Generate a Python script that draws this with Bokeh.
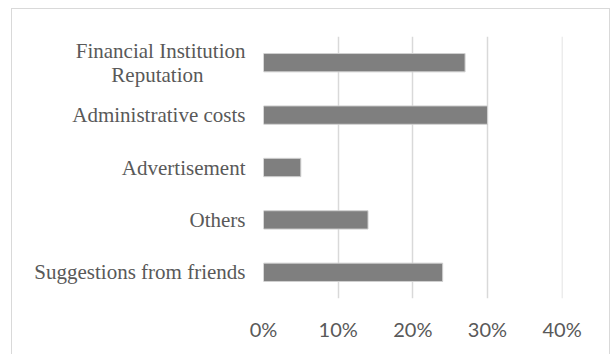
from bokeh.plotting import figure
from bokeh.models import FactorRange, FixedTicker, NumeralTickFormatter, ColumnDataSource
from bokeh.embed import file_html
from bokeh.resources import INLINE

categories = ["Financial Institution\nReputation" + "\u00a0" * 8, "Administrative costs",
              "Advertisement", "Others", "Suggestions from friends"]
values = [0.27, 0.30, 0.05, 0.14, 0.24]
x_ticks = [0.0, 0.1, 0.2, 0.3, 0.4]

src = ColumnDataSource(dict(cat=categories, val=values))

p = figure(width=599, height=346, output_backend="svg", toolbar_location=None,
           y_range=FactorRange(factors=list(reversed(categories))),
           x_range=(0, 0.4005))
p.margin = (8, 0, 0, 11)
p.styles = {"border-top": "1px solid #d9d9d9", "border-left": "1px solid #d9d9d9",
            "border-right": "1px solid #d9d9d9"}
p.min_border_left = 251
p.min_border_right = 49
p.min_border_top = 27
p.min_border_bottom = 57
p.outline_line_color = None
p.background_fill_color = "white"
p.border_fill_color = "white"

p.hbar(y="cat", right="val", left=0, height=0.35, source=src,
       fill_color="#7f7f7f", line_color="#d0d0d0", line_width=1)

p.ygrid.grid_line_color = None
p.xgrid.grid_line_color = "#d9d9d9"
p.xgrid.grid_line_width = 1.5
p.xaxis.ticker = FixedTicker(ticks=x_ticks)
p.xaxis.formatter = NumeralTickFormatter(format="0%")
p.xaxis.axis_line_color = None
p.xaxis.major_tick_line_color = None
p.xaxis.minor_tick_line_color = None
p.xaxis.major_label_text_font = "Lato"
p.xaxis.major_label_text_font_size = "20px"
p.xaxis.major_label_text_color = "#595959"
p.xaxis.major_label_standoff = 12

p.yaxis.axis_line_color = None
p.yaxis.major_tick_line_color = None
p.yaxis.minor_tick_line_color = None
p.yaxis.major_label_text_font = "Liberation Serif"
p.yaxis.major_label_text_font_size = "21px"
p.yaxis.major_label_text_color = "#595959"
p.yaxis.major_label_text_line_height = 1.0
p.yaxis.major_label_standoff = 12

open("out.html", "w").write(file_html(p, INLINE))
